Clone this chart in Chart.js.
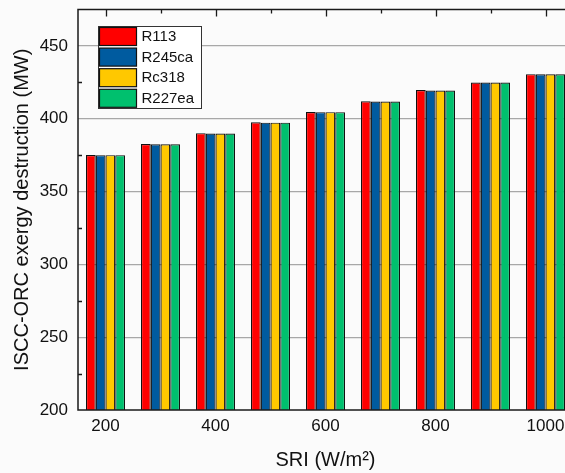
<!DOCTYPE html>
<html>
<head>
<meta charset="utf-8">
<script src="https://cdn.jsdelivr.net/npm/chart.js@4.4.1/dist/chart.umd.min.js"></script>
<style>
  html, body { margin: 0; padding: 0; background: #fbfbfb; }
  #wrap { width: 565px; height: 473px; overflow: hidden; }
</style>
</head>
<body>
<div id="wrap"><canvas id="chart" width="580" height="473"></canvas></div>
<script>
// SRI levels (W/m2)
const categories = [200, 300, 400, 500, 600, 700, 800, 900, 1000];
const xTickLabels = ['200', '', '400', '', '600', '', '800', '', '1000'];
const yTicks = [200, 250, 300, 350, 400, 450];
const yMinorTicks = [225, 275, 325, 375, 425];

// ISCC-ORC exergy destruction (MW)
const r113   = [375.1, 382.6, 390.1, 397.6, 404.6, 412.0, 419.7, 424.9, 430.6];
const r245ca = [375.0, 382.4, 389.9, 397.3, 404.5, 411.8, 419.3, 424.8, 430.5];
const rc318  = [375.0, 382.4, 389.9, 397.3, 404.5, 411.8, 419.3, 424.8, 430.5];
const r227ea = [375.0, 382.4, 389.9, 397.3, 404.5, 411.8, 419.3, 424.8, 430.5];

const FONT = "'Liberation Sans', Arial, sans-serif";

// frame, inward ticks and boxed legend
const extras = {
  id: 'extras',
  afterDraw(chart) {
    const { ctx, chartArea: a, scales: { x, y } } = chart;
    ctx.save();
    ctx.strokeStyle = '#1a1a1a';
    ctx.lineWidth = 1.5;
    ctx.strokeRect(a.left, a.top, a.right - a.left, a.bottom - a.top);

    ctx.lineWidth = 1.3;
    ctx.beginPath();
    categories.forEach((c, i) => {
      const px = Math.round(x.getPixelForValue(i)) + 0.5;
      const len = xTickLabels[i] ? 7 : 4;
      ctx.moveTo(px, a.top);
      ctx.lineTo(px, a.top + len);
    });
    yMinorTicks.forEach(v => {
      const py = Math.round(y.getPixelForValue(v)) + 0.5;
      ctx.moveTo(a.left, py);
      ctx.lineTo(a.left + 4, py);
      ctx.moveTo(a.right, py);
      ctx.lineTo(a.right - 4, py);
    });
    ctx.stroke();

    // legend
    const lx = 98.5, ly = 26.5, lw = 103, lh = 82, row = 20.6;
    ctx.fillStyle = '#ffffff';
    ctx.fillRect(lx, ly, lw, lh);
    ctx.strokeStyle = '#333';
    ctx.lineWidth = 1;
    ctx.strokeRect(lx, ly, lw, lh);
    ctx.font = '15px ' + FONT;
    ctx.textBaseline = 'middle';
    ctx.textAlign = 'left';
    chart.data.datasets.forEach((ds, i) => {
      const sy = ly + 1 + i * row;
      ctx.fillStyle = ds.backgroundColor;
      ctx.fillRect(lx + 1, sy, 37, 18);
      ctx.strokeStyle = '#111';
      ctx.lineWidth = 1.2;
      ctx.strokeRect(lx + 1, sy, 37, 18);
      ctx.fillStyle = '#111';
      ctx.fillText(ds.label, lx + 43, sy + 9.5);
    });
    ctx.restore();
  }
};

function series(label, data, color) {
  return {
    label: label,
    data: data,
    backgroundColor: color,
    borderColor: '#111',
    borderWidth: 1.2,
    borderSkipped: false,
    categoryPercentage: 0.71,
    barPercentage: 1.0
  };
}

new Chart(document.getElementById('chart'), {
  type: 'bar',
  data: {
    labels: categories.map(String),
    datasets: [
      series('R113', r113, '#ff0000'),
      series('R245ca', r245ca, '#005b9f'),
      series('Rc318', rc318, '#ffc800'),
      series('R227ea', r227ea, '#00c06e')
    ]
  },
  options: {
    responsive: false,
    animation: false,
    devicePixelRatio: 1,
    layout: { padding: { left: 0, top: 9.5, right: 7, bottom: 0 } },
    plugins: {
      legend: { display: false },
      tooltip: { enabled: false }
    },
    scales: {
      x: {
        grid: { display: false, drawTicks: false },
        border: { display: false },
        ticks: {
          autoSkip: false,
          maxRotation: 0,
          padding: 6,
          color: '#111',
          font: { family: FONT, size: 17 },
          callback: (v, i) => xTickLabels[i]
        },
        title: {
          display: true,
          text: 'SRI (W/m²)',
          color: '#111',
          font: { family: FONT, size: 20 },
          padding: { top: 0, bottom: 0.5 }
        },
        afterFit: s => { s.height = 63; s.paddingLeft = 0; s.paddingRight = 0; }
      },
      y: {
        min: 200,
        max: 475,
        afterBuildTicks: s => { s.ticks = yTicks.map(v => ({ value: v })); },
        grid: {
          drawTicks: false,
          color: ctx => (ctx.tick && ctx.tick.value === 200) ? 'rgba(0,0,0,0)' : '#a8a8a8',
          lineWidth: 1.2
        },
        border: { display: false },
        ticks: {
          padding: 10,
          color: '#111',
          font: { family: FONT, size: 17 }
        },
        title: {
          display: true,
          text: 'ISCC-ORC exergy destruction (MW)',
          color: '#111',
          font: { family: FONT, size: 20 },
          padding: { top: 10.5, bottom: 0 }
        },
        afterFit: s => { s.width = 78; s.paddingTop = 0; s.paddingBottom = 0; }
      }
    }
  },
  plugins: [extras]
});
</script>
</body>
</html>
